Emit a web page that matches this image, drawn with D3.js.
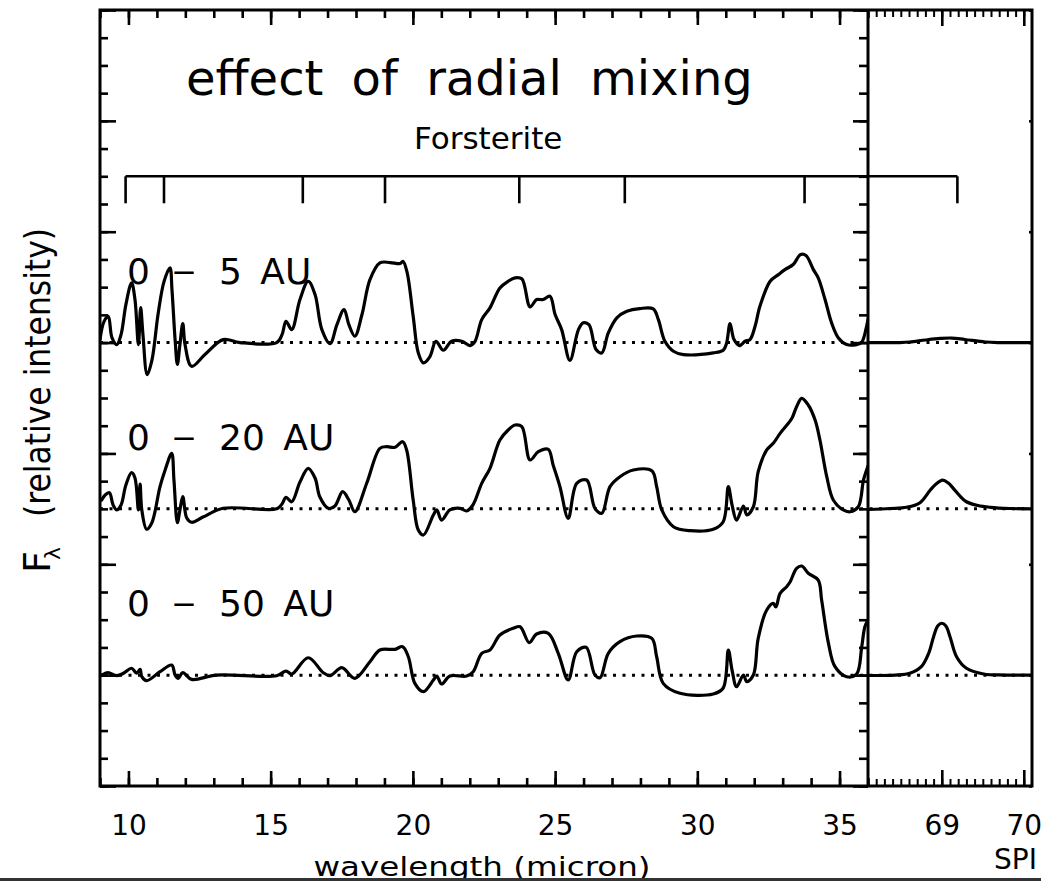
<!DOCTYPE html>
<html>
<head>
<meta charset="utf-8">
<script src="https://cdn.jsdelivr.net/npm/d3@7"></script>
<style>
  body { margin: 0; background: #fff; }
  svg { display: block; }
  text { font-family: "DejaVu Sans", sans-serif; fill: #000; }
</style>
</head>
<body>
<svg id="chart" width="1041" height="881"></svg>
<script>
// ---- data -------------------------------------------------------------
// mid-IR wavelength ticks (micron) and far-IR ticks
const wavelengthTicks = [10, 15, 20, 25, 30, 35];
const farTicks = [69, 70];

// forsterite band positions (micron)
const forsteriteBands = [9.90, 11.25, 16.13, 19.02, 23.74, 27.45, 33.77];
const forsteriteFarBand = 69.19;

// labels of the three disk regions and the vertical offset of each spectrum
const regionLabels = ["0 – 5 AU", "0 – 20 AU", "0 – 50 AU"];
const offsets = [4, 2.5, 1];

// continuum-subtracted spectra, [wavelength (micron), relative flux]
const mixing5 = [
  [9.00,0.027],[9.14,0.189],[9.29,0.237],[9.42,0.045],[9.59,-0.018],[9.74,0.072],
  [9.91,0.343],[10.11,0.539],[10.23,0.388],[10.35,-0.018],[10.43,0.316],[10.51,0.072],
  [10.66,-0.289],[10.83,-0.153],[11.04,0.253],[11.25,0.550],[11.46,0.674],[11.53,0.478],
  [11.64,0.027],[11.72,-0.198],[11.81,-0.018],[11.91,0.171],[11.99,-0.018],[12.22,-0.214],
  [12.69,-0.108],[13.33,0.027],[13.92,0],[15.21,0],[15.40,0.072],[15.54,0.192],
  [15.74,0.117],[16.03,0.388],[16.32,0.553],[16.56,0.433],[16.80,0.117],[17.09,-0.009],
  [17.33,0.162],[17.58,0.298],[17.75,0.162],[17.96,0.057],[18.21,0.253],[18.49,0.568],
  [18.84,0.719],[19.20,0.722],[19.55,0.713],[19.65,0.733],[19.79,0.640],[20.01,0.237],
  [20.19,-0.093],[20.37,-0.183],[20.60,-0.126],[20.81,0.012],[21.07,-0.069],[21.36,0.012],
  [21.72,0.012],[22.01,-0.027],[22.18,0.009],[22.42,0.207],[22.71,0.313],[23.06,0.493],
  [23.35,0.553],[23.59,0.584],[23.83,0.575],[24.12,0.322],[24.35,0.388],[24.58,0.388],
  [24.82,0.418],[25.00,0.253],[25.23,0.117],[25.52,-0.160],[25.82,0.117],[25.99,0.178],
  [26.19,0.162],[26.44,-0.063],[26.64,-0.093],[26.87,0.087],[27.17,0.223],[27.52,0.282],
  [27.98,0.307],[28.45,0.304],[28.63,0.207],[28.86,0.012],[29.16,-0.078],[29.51,-0.108],
  [30.56,-0.093],[30.91,-0.069],[31.03,-0.003],[31.15,0.171],[31.29,0.027],[31.48,-0.027],
  [31.68,0.012],[31.85,0.027],[32.03,0.147],[32.20,0.327],[32.56,0.553],[32.85,0.613],
  [33.08,0.658],[33.37,0.704],[33.63,0.794],[33.82,0.785],[34.08,0.658],[34.25,0.584],
  [34.49,0.388],[34.72,0.178],[34.96,0.042],[35.25,-0.018],[35.60,-0.018],[35.78,0.003],
  [35.95,0.147],[36.00,0.207]
];

const mixing20 = [
  [9.06,0.080],[9.18,0.125],[9.33,0.146],[9.46,0.035],[9.59,-0.010],[9.74,0.035],
  [9.91,0.215],[10.11,0.326],[10.23,0.278],[10.35,-0.010],[10.41,0.224],[10.47,-0.010],
  [10.64,-0.184],[10.82,-0.128],[11.11,0.200],[11.29,0.350],[11.52,0.501],[11.60,0.260],
  [11.72,-0.125],[11.81,-0.010],[11.91,0.110],[12.05,-0.083],[12.22,-0.121],[12.62,-0.074],
  [13.33,0.005],[15.21,0],[15.40,0.044],[15.54,0.104],[15.74,0.064],[16.03,0.242],
  [16.32,0.366],[16.56,0.278],[16.73,0.107],[17.03,0.005],[17.26,0.026],[17.53,0.155],
  [17.75,0.080],[17.96,-0.026],[18.38,0.233],[18.84,0.546],[19.08,0.561],[19.37,0.555],
  [19.64,0.606],[19.78,0.531],[20.01,0.080],[20.19,-0.191],[20.37,-0.236],[20.72,-0.055],
  [20.84,-0.010],[21.01,-0.101],[21.30,-0.010],[21.66,0.005],[21.89,-0.019],[22.11,0.035],
  [22.42,0.230],[22.71,0.366],[23.06,0.621],[23.35,0.711],[23.59,0.756],[23.83,0.741],
  [24.12,0.441],[24.41,0.516],[24.76,0.537],[24.93,0.396],[25.17,0.200],[25.46,-0.085],
  [25.76,0.230],[26.11,0.260],[26.40,0.005],[26.64,-0.040],[26.93,0.200],[27.28,0.290],
  [27.75,0.350],[28.40,0.344],[28.57,0.200],[28.75,-0.010],[29.16,-0.161],[29.74,-0.197],
  [30.56,-0.184],[30.91,-0.116],[31.09,0.200],[31.22,0.035],[31.38,-0.101],[31.62,0.026],
  [31.74,-0.055],[31.97,0.019],[32.14,0.335],[32.44,0.531],[32.67,0.591],[32.91,0.681],
  [33.20,0.772],[33.33,0.820],[33.49,0.921],[33.67,0.997],[33.90,0.937],[34.14,0.801],
  [34.31,0.621],[34.55,0.290],[34.78,0.080],[35.13,-0.010],[35.37,-0.026],[35.66,0.019],
  [35.84,0.260],[35.95,0.350],[36.00,0.387]
];

const mixing50 = [
  [9.00,-0.008],[9.06,0.001],[9.28,0.022],[9.59,-0.005],[9.84,0.019],[10.11,0.062],
  [10.29,0.017],[10.41,0.053],[10.47,-0.014],[10.64,-0.050],[11.11,0.031],[11.52,0.091],
  [11.64,0.001],[11.75,-0.029],[11.91,0.022],[12.22,-0.038],[13.10,0.001],[15.21,-0.005],
  [15.54,0.037],[15.74,0.010],[16.32,0.157],[16.85,0.022],[17.09,-0.005],[17.50,0.067],
  [17.96,-0.029],[18.49,0.121],[18.84,0.227],[19.37,0.233],[19.64,0.257],[19.84,0.166],
  [20.07,-0.074],[20.37,-0.149],[20.72,-0.044],[20.84,-0.008],[21.01,-0.080],[21.30,-0.008],
  [21.89,-0.008],[22.12,0.031],[22.42,0.197],[22.71,0.227],[23.06,0.362],[23.53,0.423],
  [23.77,0.437],[24.09,0.293],[24.35,0.371],[24.76,0.377],[25.11,0.197],[25.46,-0.044],
  [25.76,0.211],[26.09,0.251],[26.40,0.001],[26.58,-0.023],[26.87,0.197],[27.28,0.302],
  [27.87,0.353],[28.40,0.332],[28.57,0.166],[28.80,-0.074],[29.39,-0.164],[30.56,-0.170],
  [30.91,-0.116],[31.09,0.227],[31.22,0.046],[31.38,-0.104],[31.62,0.001],[31.74,-0.059],
  [31.97,0.001],[32.14,0.332],[32.44,0.588],[32.67,0.648],[32.76,0.615],[32.91,0.738],
  [33.14,0.798],[33.26,0.840],[33.49,0.964],[33.67,0.984],[33.90,0.919],[34.25,0.858],
  [34.37,0.678],[34.61,0.287],[34.84,0.076],[35.25,-0.014],[35.60,0.010],[35.78,0.257],
  [35.89,0.437],[36.00,0.497]
];

// far-IR 69 micron band
const far5 = [
  [68.10,0],[68.49,0],[68.61,0.005],[68.80,0.023],[68.98,0.037],[69.12,0.041],
  [69.28,0.028],[69.53,0.005],[69.71,0],[70.10,0]
];
const far20 = [
  [68.10,-0.006],[68.37,0.003],[68.57,0.014],[68.73,0.053],[68.86,0.170],[68.93,0.224],
  [69.01,0.260],[69.08,0.233],[69.14,0.185],[69.22,0.116],[69.30,0.064],[69.44,0.030],
  [69.59,0.014],[69.83,0.003],[70.10,0]
];
const far50 = [
  [68.10,-0.003],[68.43,0.001],[68.61,0.017],[68.75,0.076],[68.84,0.197],[68.90,0.347],
  [68.95,0.443],[69.00,0.468],[69.05,0.443],[69.10,0.347],[69.18,0.166],[69.30,0.062],
  [69.51,0.010],[69.77,0.001],[70.10,0]
];

// ---- drawing ----------------------------------------------------------
const svg = d3.select("#chart");
const xL = d3.scaleLinear().domain([9, 36]).range([100, 868]);
const xR = d3.scaleLinear().domain([68.1, 70.1]).range([868, 1032]);
const y = d3.scaleLinear().domain([0, 7]).range([786, 10]);

const defs = svg.append("defs");
defs.append("clipPath").attr("id", "clipL").append("rect")
  .attr("x", xL.range()[0]).attr("y", y(7)).attr("width", xL.range()[1] - xL.range()[0]).attr("height", y(0) - y(7));
defs.append("clipPath").attr("id", "clipR").append("rect")
  .attr("x", xR.range()[0]).attr("y", y(7)).attr("width", xR.range()[1] - xR.range()[0]).attr("height", y(0) - y(7));

// dotted zero levels
offsets.forEach(o => {
  svg.append("line")
    .attr("x1", xL(9)).attr("x2", xR(70.1))
    .attr("y1", y(o)).attr("y2", y(o))
    .attr("stroke", "#000").attr("stroke-width", 3)
    .attr("stroke-dasharray", "3,6.5");
});

// spectra
const nearSpectra = [mixing5, mixing20, mixing50];
const farSpectra = [far5, far20, far50];
const curve = d3.curveCatmullRom.alpha(0.5);
nearSpectra.forEach((s, i) => {
  const line = d3.line().x(d => xL(d[0])).y(d => y(d[1] + offsets[i])).curve(curve);
  svg.append("path").datum(s).attr("d", line).attr("clip-path", "url(#clipL)")
    .attr("fill", "none").attr("stroke", "#000").attr("stroke-width", 3.2)
    .attr("stroke-linejoin", "round").attr("stroke-linecap", "round");
});
farSpectra.forEach((s, i) => {
  const line = d3.line().x(d => xR(d[0])).y(d => y(d[1] + offsets[i])).curve(curve);
  svg.append("path").datum(s).attr("d", line).attr("clip-path", "url(#clipR)")
    .attr("fill", "none").attr("stroke", "#000").attr("stroke-width", 3.2)
    .attr("stroke-linejoin", "round");
});

// tick helper
function tickAxis(axis, transform, width) {
  const g = svg.append("g").attr("transform", transform).call(axis.tickFormat(""));
  g.select(".domain").remove();
  g.selectAll(".tick text").remove();
  g.selectAll(".tick line").attr("stroke", "#000").attr("stroke-width", width || 2.6);
  return g;
}

const minorL = d3.range(9, 37, 1);
const minorY = d3.range(0, 7.01, 0.25);
const majorY = d3.range(0, 8, 1);
const minorR = d3.range(682, 701, 1).map(v => v / 10);

// left panel
tickAxis(d3.axisBottom(xL).tickValues(minorL).tickSize(-8), `translate(0,${y(0)})`);
tickAxis(d3.axisBottom(xL).tickValues(wavelengthTicks).tickSize(-15), `translate(0,${y(0)})`);
tickAxis(d3.axisTop(xL).tickValues(minorL).tickSize(-8), `translate(0,${y(7)})`);
tickAxis(d3.axisTop(xL).tickValues(wavelengthTicks).tickSize(-15), `translate(0,${y(7)})`);
tickAxis(d3.axisLeft(y).tickValues(minorY).tickSize(-8), `translate(${xL(9)},0)`);
tickAxis(d3.axisLeft(y).tickValues(majorY).tickSize(-16), `translate(${xL(9)},0)`);
tickAxis(d3.axisRight(y).tickValues(minorY).tickSize(-9), `translate(${xL(36)},0)`);
tickAxis(d3.axisRight(y).tickValues(majorY).tickSize(-15), `translate(${xL(36)},0)`);

// right panel
tickAxis(d3.axisBottom(xR).tickValues(minorR).tickSize(-7), `translate(0,${y(0)})`, 2);
tickAxis(d3.axisBottom(xR).tickValues(farTicks).tickSize(-16), `translate(0,${y(0)})`);
tickAxis(d3.axisTop(xR).tickValues(minorR).tickSize(-7), `translate(0,${y(7)})`, 2);
tickAxis(d3.axisTop(xR).tickValues(farTicks).tickSize(-16), `translate(0,${y(7)})`);
tickAxis(d3.axisRight(y).tickValues(majorY).tickSize(-3), `translate(${xR(70.1)},0)`);

// frame and panel divider
svg.append("rect").attr("x", xL(9)).attr("y", y(7))
  .attr("width", xR(70.1) - xL(9)).attr("height", y(0) - y(7))
  .attr("fill", "none").attr("stroke", "#000").attr("stroke-width", 3);
svg.append("line").attr("x1", xL(36)).attr("x2", xL(36)).attr("y1", y(7)).attr("y2", y(0))
  .attr("stroke", "#000").attr("stroke-width", 3);

// tick labels
function labelAxis(axis, values) {
  const g = svg.append("g").attr("transform", `translate(0,${y(0)})`)
    .call(axis.tickValues(values).tickSize(0).tickPadding(29).tickFormat(d3.format("d")));
  g.select(".domain").remove();
  g.attr("font-size", 28).attr("font-family", "DejaVu Sans, sans-serif");
  g.selectAll(".tick text").attr("fill", "#000");
}
labelAxis(d3.axisBottom(xL), wavelengthTicks);
labelAxis(d3.axisBottom(xR), farTicks);

// forsterite band markers
const bandX = forsteriteBands.map(xL).concat([xR(forsteriteFarBand)]);
const barY = y(5.5);
svg.append("line").attr("x1", bandX[0]).attr("x2", bandX[bandX.length - 1])
  .attr("y1", barY).attr("y2", barY).attr("stroke", "#000").attr("stroke-width", 2.6);
svg.selectAll(".band").data(bandX).enter().append("line").attr("class", "band")
  .attr("x1", d => d).attr("x2", d => d).attr("y1", barY).attr("y2", barY + 27)
  .attr("stroke", "#000").attr("stroke-width", 2.6);
svg.append("text").attr("x", 414).attr("y", 149).attr("font-size", 31).text("Forsterite");

// title
svg.append("text").attr("x", 186).attr("y", 95).attr("font-size", 48)
  .attr("word-spacing", 13).text("effect of radial mixing");

// region labels
regionLabels.forEach((lab, i) => {
  const parts = lab.split(" ");
  const base = y(offsets[i]) - 59;
  svg.append("text").attr("x", 127).attr("y", base).attr("font-size", 36).text(parts[0]);
  svg.append("text").attr("x", 172).attr("y", base - 1).attr("font-size", 36)
    .attr("textLength", 24).attr("lengthAdjust", "spacingAndGlyphs").text(parts[1]);
  svg.append("text").attr("x", 219).attr("y", base).attr("font-size", 36)
    .attr("word-spacing", 7).text(parts[2] + " " + parts[3]);
});

// axis titles
svg.append("text").attr("x", 482).attr("y", 876).attr("font-size", 26)
  .attr("text-anchor", "middle").attr("textLength", 337).attr("lengthAdjust", "spacingAndGlyphs")
  .text("wavelength (micron)");
svg.append("text").attr("x", 994).attr("y", 869).attr("font-size", 28).text("SPI");

const yt = svg.append("g").attr("transform", "translate(50,517) rotate(-90)");
yt.append("text").attr("x", -56).attr("y", 0).attr("font-size", 38).text("F");
yt.append("text").attr("x", -43).attr("y", 10).attr("font-size", 22).text("λ");
yt.append("text").attr("x", 0).attr("y", 0).attr("font-size", 35)
  .attr("textLength", 289).attr("lengthAdjust", "spacingAndGlyphs").text("(relative intensity)");

// bottom edge strip
svg.append("rect").attr("x", 0).attr("y", 878).attr("width", 1041).attr("height", 3).attr("fill", "#333");
</script>
</body>
</html>
